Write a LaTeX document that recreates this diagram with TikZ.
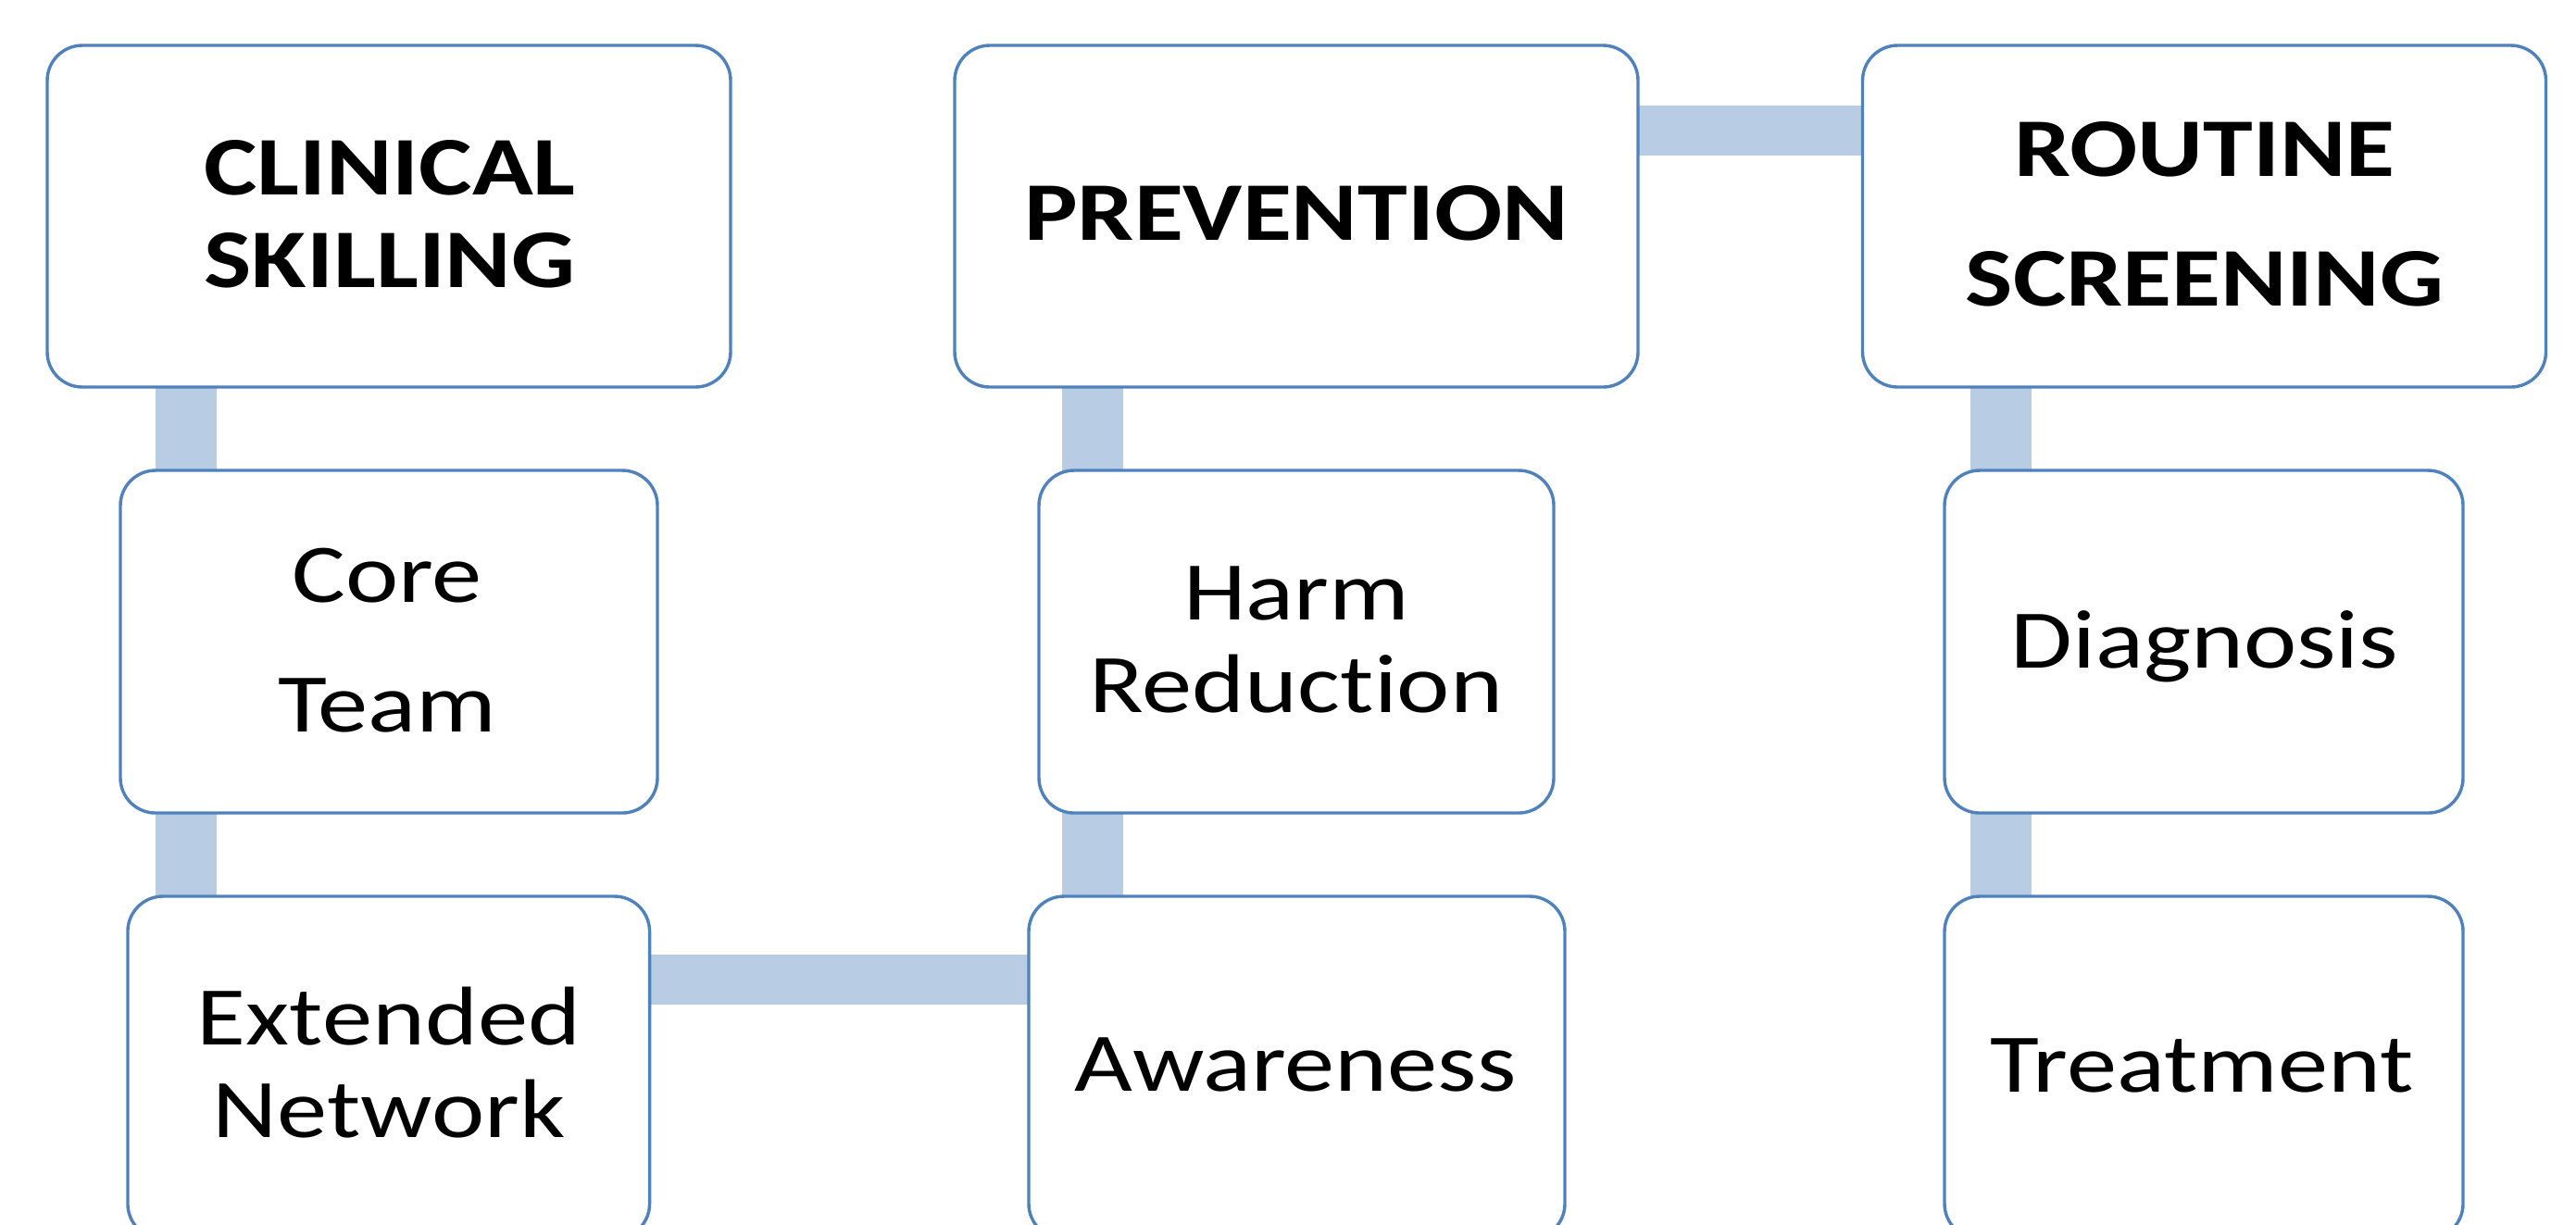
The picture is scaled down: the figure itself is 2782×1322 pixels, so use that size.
\documentclass[tikz,border=0pt]{standalone}
\usepackage{fontspec}
\setmainfont{Carlito}[FakeStretch=1.205, Ligatures={NoCommon}]
\usetikzlibrary{backgrounds}
\definecolor{boxblue}{HTML}{4F81BD}
\definecolor{connblue}{HTML}{B8CCE4}
\begin{document}
\begin{tikzpicture}[x=0.25pt,y=-0.25pt,
  box/.style={draw=boxblue, line width=0.85pt, fill=white, rounded corners=9.5pt, inner sep=0pt, outer sep=0pt},
  toprow/.style={box, minimum width=184.5pt, minimum height=92.25pt},
  lowrow/.style={box, minimum height=92.5pt},
  lbl/.style={anchor=base, inner sep=0pt, font=\fontsize{22.5}{25}\selectfont},
  hlbl/.style={anchor=base, inner sep=0pt, font=\fontsize{22.5}{25}\selectfont\bfseries},
  vconn/.style={draw=connblue, line width=16.5pt},
  hconn/.style={draw=connblue, line width=13.5pt}]
\useasboundingbox (0,0) rectangle (2782,1322);
\clip (0,0) rectangle (2782,1322);
% boxes
\node[toprow] (clin) at (420,233.5) {};
\node[toprow] (prev) at (1400,233.5) {};
\node[toprow] (rout) at (2380.5,233.5) {};
\node[lowrow, minimum width=145pt] (core) at (420,693) {};
\node[lowrow, minimum width=139pt] (harm) at (1400,693) {};
\node[lowrow, minimum width=140pt] (diag) at (2380,693) {};
\node[lowrow, minimum width=140.9pt] (ext) at (419.75,1153) {};
\node[lowrow, minimum width=144.75pt] (aware) at (1400.5,1153) {};
\node[lowrow, minimum width=140pt] (treat) at (2380,1153) {};
% labels
\node[hlbl] (clinT) at (421,210) {\begin{tabular}[t]{@{}c@{}}CLINICAL\\SKILLING\end{tabular}};
\node[hlbl] (prevT) at (1400,259) {PREVENTION};
\node[hlbl] (routT) at (2381,190) {\begin{tabular}[t]{@{}c@{}}ROUTINE\\[10pt]SCREENING\end{tabular}};
\node[lbl] (coreT) at (418,650) {\begin{tabular}[t]{@{}c@{}}Core\\[10pt]Team\end{tabular}};
\node[lbl] (harmT) at (1400,669) {\begin{tabular}[t]{@{}c@{}}Harm\\Reduction\end{tabular}};
\node[lbl] (diagT) at (2381,721) {Diagnosis};
\node[lbl] (extT) at (420,1128.5) {\begin{tabular}[t]{@{}c@{}}Extended\\Network\end{tabular}};
\node[lbl] (awareT) at (1399,1178.5) {Awareness};
\node[lbl] (treatT) at (2378,1179) {Treatment};
% connectors
\begin{scope}[on background layer]
  \fill[white] (0,0) rectangle (2782,1322);
  \coordinate (cA) at (200.5,0);
  \coordinate (cB) at (1180,0);
  \coordinate (cC) at (2161,0);
  \coordinate (rT) at (0,140.5);
  \coordinate (rB) at (0,1058);
  \draw[vconn] (clin.south -| cA) -- (core.north -| cA);
  \draw[vconn] (core.south -| cA) -- (ext.north -| cA);
  \draw[hconn] (ext.east |- rB) -- (aware.west |- rB);
  \draw[vconn] (aware.north -| cB) -- (harm.south -| cB);
  \draw[vconn] (harm.north -| cB) -- (prev.south -| cB);
  \draw[hconn] (prev.east |- rT) -- (rout.west |- rT);
  \draw[vconn] (rout.south -| cC) -- (diag.north -| cC);
  \draw[vconn] (diag.south -| cC) -- (treat.north -| cC);
\end{scope}
\end{tikzpicture}
\end{document}
